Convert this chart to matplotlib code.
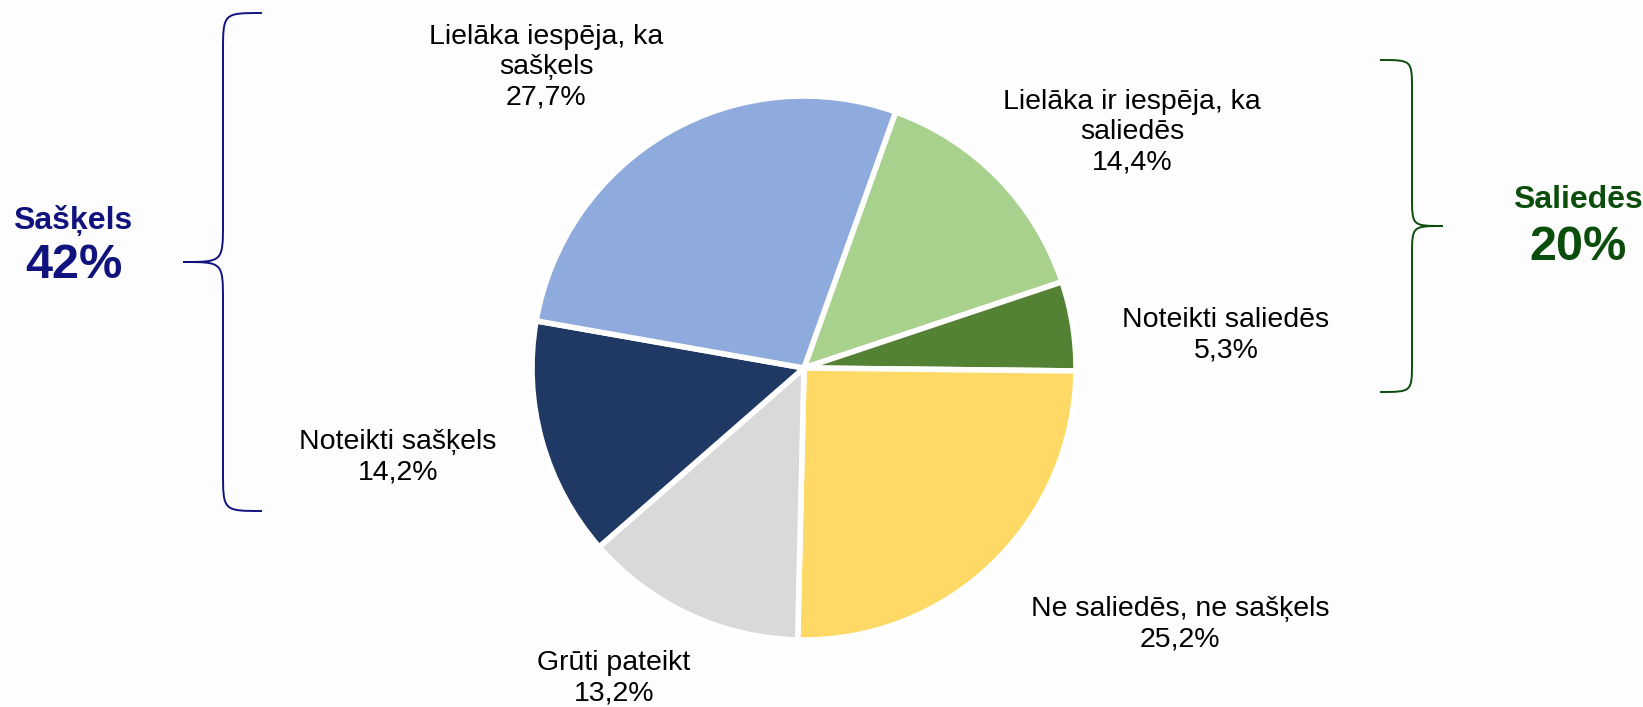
import matplotlib.pyplot as plt
from matplotlib.path import Path
from matplotlib.patches import PathPatch

plt.rcParams['font.family'] = ['Liberation Sans', 'DejaVu Sans']

# dati
kategorijas = ["Lielāka ir iespēja, ka\nsaliedēs", "Noteikti saliedēs",
               "Ne saliedēs, ne sašķels", "Grūti pateikt",
               "Noteikti sašķels", "Lielāka iespēja, ka\nsašķels"]
vertibas = [14.4, 5.3, 25.2, 13.2, 14.2, 27.7]
krasas = ['#a9d18e', '#548235', '#ffd966', '#d9d9d9', '#203864', '#8faadc']
grupas = ["Sašķels", "Saliedēs"]
grupu_vertibas = ["42%", "20%"]

# etiķešu pozīcijas (pikseļos, y uz leju)
etiketu_poz = [(1132, 132), (1226, 335), (1180, 624), (614, 678), (398, 457), (546, 67)]

fig = plt.figure(figsize=(16.43, 7.07), dpi=100, facecolor='#fdfdfd')
ax = fig.add_axes([0, 0, 1, 1])

explode = [0, 0, 0.025, 0, 0, 0]
# y ass apgriezta -> pulksteņrādītāja virziens ir counterclock=True
ax.pie(vertibas, colors=krasas, startangle=-70.3, counterclock=True,
       center=(804, 368), radius=272, explode=explode,
       wedgeprops=dict(edgecolor='white', linewidth=4))
ax.set_xlim(0, 1643)
ax.set_ylim(707, 0)
ax.set_aspect('equal')
ax.axis('off')

for kat, v, (x, y) in zip(kategorijas, vertibas, etiketu_poz):
    teksts = kat + "\n" + f"{v:.1f}%".replace('.', ',')
    ax.text(x, y, teksts, ha='center', va='center', fontsize=20.5,
            linespacing=1.22, color='black')


def iekava(x_gals, x_vert, x_smaile, y_aug, y_smaile, y_apak, r):
    v = [(x_gals, y_aug),
         (x_vert, y_aug), (x_vert, y_aug), (x_vert, y_aug + r),
         (x_vert, y_smaile - r),
         (x_vert, y_smaile), (x_vert, y_smaile), (x_smaile, y_smaile),
         (x_vert, y_smaile), (x_vert, y_smaile), (x_vert, y_smaile + r),
         (x_vert, y_apak - r),
         (x_vert, y_apak), (x_vert, y_apak), (x_gals, y_apak)]
    c = [Path.MOVETO,
         Path.CURVE4, Path.CURVE4, Path.CURVE4,
         Path.LINETO,
         Path.CURVE4, Path.CURVE4, Path.CURVE4,
         Path.CURVE4, Path.CURVE4, Path.CURVE4,
         Path.LINETO,
         Path.CURVE4, Path.CURVE4, Path.CURVE4]
    return Path(v, c)


ax.add_patch(PathPatch(iekava(262, 223, 183, 13, 262, 511, 40),
                       fill=False, edgecolor='#10137d', linewidth=1.4))
ax.add_patch(PathPatch(iekava(1380, 1412, 1443, 60, 226, 392, 30),
                       fill=False, edgecolor='#0b4d0b', linewidth=1.4))

ax.text(73, 220, grupas[0], ha='center', va='center', fontsize=23,
        fontweight='bold', color='#10137d')
ax.text(74, 266, grupu_vertibas[0], ha='center', va='center', fontsize=35,
        fontweight='bold', color='#10137d')
ax.text(1578, 200, grupas[1], ha='center', va='center', fontsize=23,
        fontweight='bold', color='#0b4d0b')
ax.text(1578, 248, grupu_vertibas[1], ha='center', va='center', fontsize=35,
        fontweight='bold', color='#0b4d0b')

fig.savefig('out.png', dpi=100, facecolor=fig.get_facecolor())
